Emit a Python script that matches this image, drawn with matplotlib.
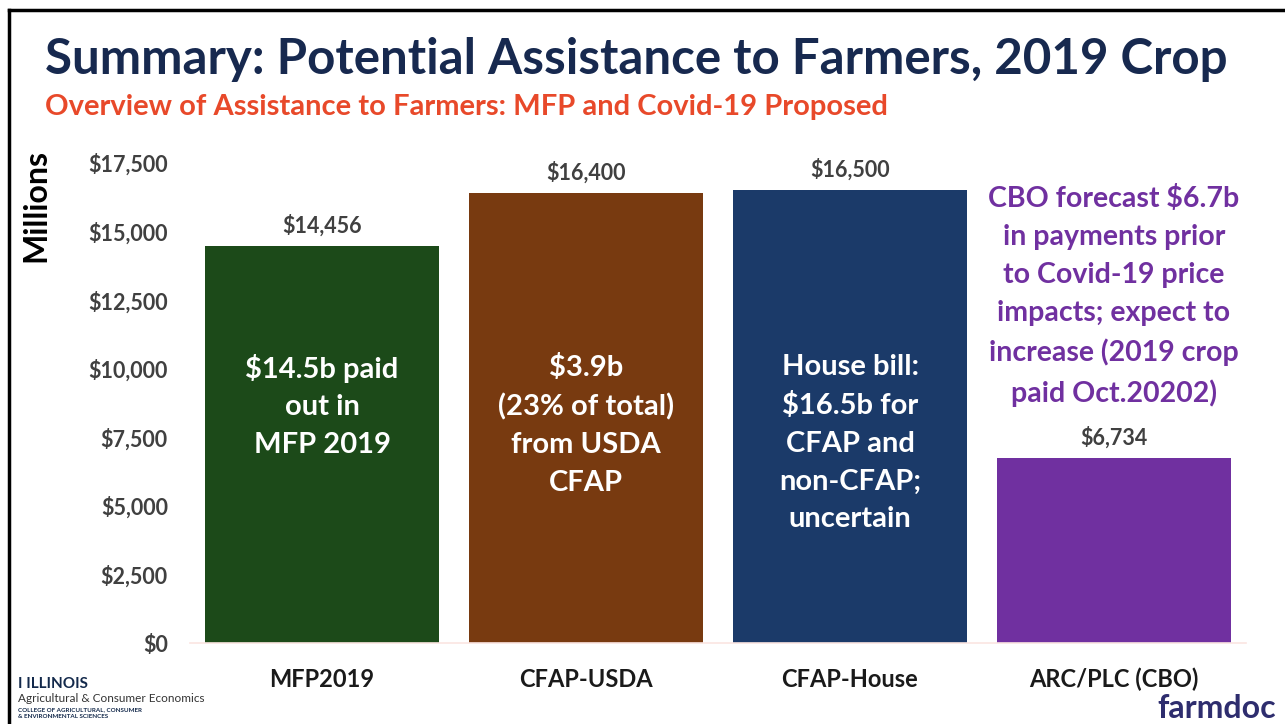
import matplotlib
matplotlib.use("Agg")
import matplotlib.pyplot as plt
from matplotlib.lines import Line2D

categories = ["MFP2019", "CFAP-USDA", "CFAP-House", "ARC/PLC (CBO)"]
values = [14456, 16400, 16500, 6734]
value_labels = ["$14,456", "$16,400", "$16,500", "$6,734"]
bar_colors = ["#1C4A19", "#783A10", "#1B3A69", "#7030A0"]
inside_texts = ["$14.5b paid\nout in\nMFP 2019",
                "$3.9b\n(23% of total)\nfrom USDA\nCFAP",
                "House bill:\n$16.5b for\nCFAP and\nnon-CFAP;\nuncertain",
                ""]
cbo_note = ("CBO forecast $6.7b\nin payments prior\nto Covid-19 price\n"
            "impacts; expect to\nincrease (2019 crop\npaid Oct.20202)")
yticks = [0, 2500, 5000, 7500, 10000, 12500, 15000, 17500]
ytick_labels = ["$0", "$2,500", "$5,000", "$7,500", "$10,000", "$12,500", "$15,000", "$17,500"]

title = "Summary: Potential Assistance to Farmers, 2019 Crop"
subtitle = "Overview of Assistance to Farmers: MFP and Covid-19 Proposed"

plt.rcParams['font.family'] = ['Lato', 'DejaVu Sans']

W, H = 1285, 724
fig = plt.figure(figsize=(W / 100, H / 100), dpi=100)

def fx(px):
    return px / W

def fy(py):
    return 1 - py / H

ax = fig.add_axes([fx(190), fy(643), fx(1246) - fx(190), fy(163) - fy(643)])
x = range(len(categories))
ax.bar(x, values, width=0.89, color=bar_colors, zorder=2)
ax.set_xlim(-0.5, 3.5)
ax.set_ylim(0, 17500)
ax.set_yticks(yticks)
ax.set_yticklabels(ytick_labels, fontsize=15.5, fontweight='bold', color='#404040')
ax.set_xticks(list(x))
ax.set_xticklabels(categories, fontsize=17, fontweight='bold', color='#1a1a1a')
ax.tick_params(axis='y', length=0, pad=16)
ax.tick_params(axis='x', length=0, pad=18)
for s in ['top', 'right', 'left']:
    ax.spines[s].set_visible(False)
ax.spines['bottom'].set_color('#FBE5E1')
ax.spines['bottom'].set_linewidth(1.2)

for i, v in enumerate(values):
    ax.annotate(value_labels[i], (i, v), xytext=(0, 7), textcoords='offset points',
                ha='center', va='bottom', fontsize=15.5, fontweight='bold', color='#404040')
    if inside_texts[i]:
        ax.text(i, 10550, inside_texts[i], ha='center', va='top', fontsize=21,
                fontweight='bold', color='white', linespacing=1.56)

ax.text(3, 16700, cbo_note, ha='center', va='top', fontsize=20.5, fontweight='bold',
        color='#7030A0', linespacing=1.57)

fig.text(fx(36), fy(205), "Millions", rotation=90, ha='center', va='center',
         fontsize=23, fontweight='bold', color='black')

fig.text(fx(45), fy(60), title, ha='left', va='center', fontsize=35.5, fontweight='bold',
         color='#17294F')
fig.text(fx(45), fy(107), subtitle, ha='left', va='center', fontsize=21, fontweight='bold',
         color='#E8492A')

# logo text
fig.text(fx(18), fy(684), "I ILLINOIS", ha='left', va='center', fontsize=11,
         fontweight='bold', color='#13294B')
fig.text(fx(18), fy(698), "Agricultural & Consumer Economics", ha='left', va='center',
         fontsize=8.5, color='#333333')
fig.text(fx(18), fy(710), "COLLEGE OF AGRICULTURAL, CONSUMER", ha='left', va='center',
         fontsize=4.5, fontweight='bold', color='#13294B')
fig.text(fx(18), fy(717), "& ENVIRONMENTAL SCIENCES", ha='left', va='center',
         fontsize=4.5, fontweight='bold', color='#13294B')
fig.text(fx(1276), fy(708), "farmdoc", ha='right', va='center', fontsize=23,
         fontweight='bold', color='#2E2D6E')

# slide frame
fig.add_artist(Line2D([fx(9), fx(9)], [fy(10), 0], color='black', lw=2.5,
                      transform=fig.transFigure))
fig.add_artist(Line2D([fx(9), 1], [fy(10), fy(10)], color='black', lw=2.5,
                      transform=fig.transFigure))

fig.savefig("out.png", dpi=100)
